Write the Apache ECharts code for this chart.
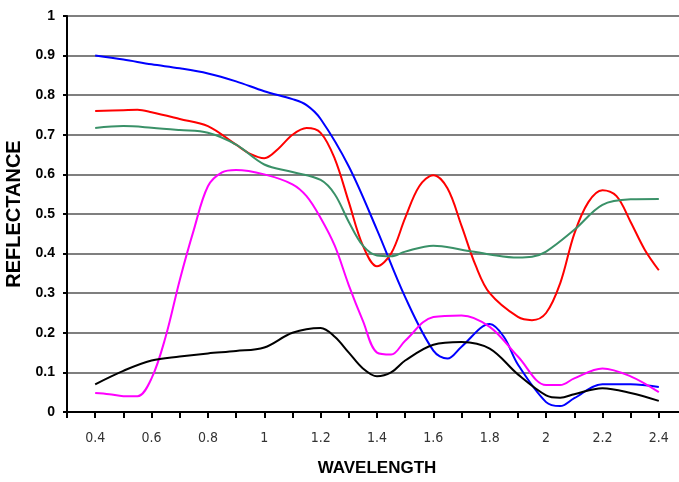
<!DOCTYPE html>
<html><head><meta charset="utf-8">
<script src="https://cdn.jsdelivr.net/npm/echarts@6/dist/echarts.min.js"></script>
<style>html,body{margin:0;padding:0;background:#fff}#c{width:679px;height:482px}</style>
</head><body><div id="c"></div>
<script>
// wavelength (µm) / reflectance pairs
const blueX  = [0.4,0.5,0.6,0.7,0.8,0.9,1.0,1.1,1.15,1.2,1.3,1.4,1.5,1.6,1.65,1.7,1.8,1.85,1.9,2.0,2.05,2.1,2.2,2.3,2.4];
const blueY  = [0.90,0.89,0.878,0.868,0.855,0.835,0.81,0.79,0.775,0.74,0.62,0.46,0.29,0.155,0.135,0.165,0.222,0.19,0.12,0.025,0.015,0.035,0.07,0.07,0.063];
const redX   = [0.4,0.5,0.55,0.6,0.7,0.8,0.9,0.95,1.0,1.05,1.1,1.15,1.2,1.25,1.3,1.35,1.4,1.45,1.5,1.55,1.6,1.65,1.7,1.75,1.8,1.9,1.95,2.0,2.05,2.1,2.15,2.2,2.25,2.3,2.35,2.4];
const redY   = [0.76,0.762,0.763,0.757,0.74,0.722,0.675,0.652,0.641,0.665,0.70,0.717,0.705,0.64,0.53,0.42,0.368,0.40,0.49,0.57,0.598,0.565,0.47,0.37,0.30,0.24,0.232,0.25,0.325,0.45,0.53,0.56,0.545,0.48,0.41,0.358];
const greenX = [0.4,0.5,0.6,0.7,0.8,0.9,1.0,1.1,1.2,1.25,1.3,1.35,1.4,1.45,1.5,1.6,1.7,1.8,1.9,1.95,2.0,2.1,2.2,2.3,2.4];
const greenY = [0.717,0.722,0.718,0.712,0.705,0.675,0.625,0.606,0.586,0.55,0.48,0.42,0.395,0.393,0.405,0.42,0.41,0.398,0.39,0.392,0.405,0.46,0.523,0.537,0.538];
const pinkX  = [0.4,0.45,0.5,0.55,0.6,0.65,0.7,0.75,0.8,0.85,0.9,1.0,1.1,1.15,1.2,1.25,1.3,1.35,1.4,1.45,1.5,1.6,1.7,1.8,1.9,2.0,2.05,2.1,2.2,2.3,2.4];
const pinkY  = [0.048,0.045,0.04,0.04,0.085,0.19,0.333,0.46,0.57,0.605,0.611,0.60,0.575,0.545,0.49,0.42,0.32,0.23,0.15,0.145,0.18,0.24,0.244,0.215,0.14,0.068,0.068,0.085,0.11,0.09,0.05];
const blackX = [0.4,0.5,0.6,0.7,0.8,0.9,1.0,1.1,1.2,1.25,1.3,1.35,1.4,1.45,1.5,1.6,1.7,1.8,1.9,2.0,2.05,2.1,2.2,2.3,2.4];
const blackY = [0.07,0.104,0.13,0.14,0.148,0.154,0.163,0.2,0.212,0.19,0.15,0.11,0.09,0.1,0.13,0.17,0.177,0.16,0.095,0.042,0.036,0.045,0.06,0.048,0.028];

const xTitle = 'WAVELENGTH';
const yTitle = 'REFLECTANCE';

function pairs(xs, ys){ return xs.map((x,i)=>[x, ys[i]]); }
function line(name, xs, ys, color){
  return {name, type:'line', data:pairs(xs,ys), showSymbol:false, smooth:0.35,
          lineStyle:{color, width:2}, itemStyle:{color}};
}

const chart = echarts.init(document.getElementById('c'), null, {renderer:'canvas'});
chart.setOption({
  animation:false,
  grid:{left:67, top:16, bottom:70, right:-8, containLabel:false, outerBoundsMode:'none'},
  xAxis:{type:'value', min:0.3, max:2.5, interval:0.1,
    name:xTitle, nameLocation:'middle', nameGap:48,
    nameTextStyle:{fontFamily:'Liberation Sans, Arial, sans-serif', fontWeight:'bold', fontSize:17, color:'#000'},
    axisLine:{lineStyle:{color:'#000', width:2}},
    axisTick:{show:true, length:6, lineStyle:{color:'#000', width:2}},
    splitLine:{show:false},
    axisLabel:{margin:19, color:'#333', fontSize:14, fontFamily:'Liberation Sans Narrow, DejaVu Sans Condensed, Arial Narrow, sans-serif',
      formatter:v=>{const k=Math.round(v*10); return (k%2===0 && k>=4 && k<=24)? String(k/10):'';}}
  },
  yAxis:{type:'value', min:0, max:1, interval:0.1,
    name:yTitle, nameLocation:'middle', nameGap:39, nameRotate:90,
    nameTextStyle:{fontFamily:'Liberation Sans, Arial, sans-serif', fontWeight:'bold', fontSize:20, color:'#000'},
    axisLine:{show:true, lineStyle:{color:'#000', width:2}},
    axisTick:{show:true, length:4, lineStyle:{color:'#000', width:2}},
    splitLine:{show:true, lineStyle:{color:'#555', width:1.5}},
    axisLabel:{margin:12, color:'#000', fontSize:14, fontWeight:'bold', fontFamily:'Liberation Sans, Arial, sans-serif'}
  },
  series:[
    line('blue', blueX, blueY, '#0000ff'),
    line('red', redX, redY, '#ff0000'),
    line('green', greenX, greenY, '#3a9168'),
    line('magenta', pinkX, pinkY, '#ff00ff'),
    line('black', blackX, blackY, '#000000')
  ]
});
</script></body></html>
